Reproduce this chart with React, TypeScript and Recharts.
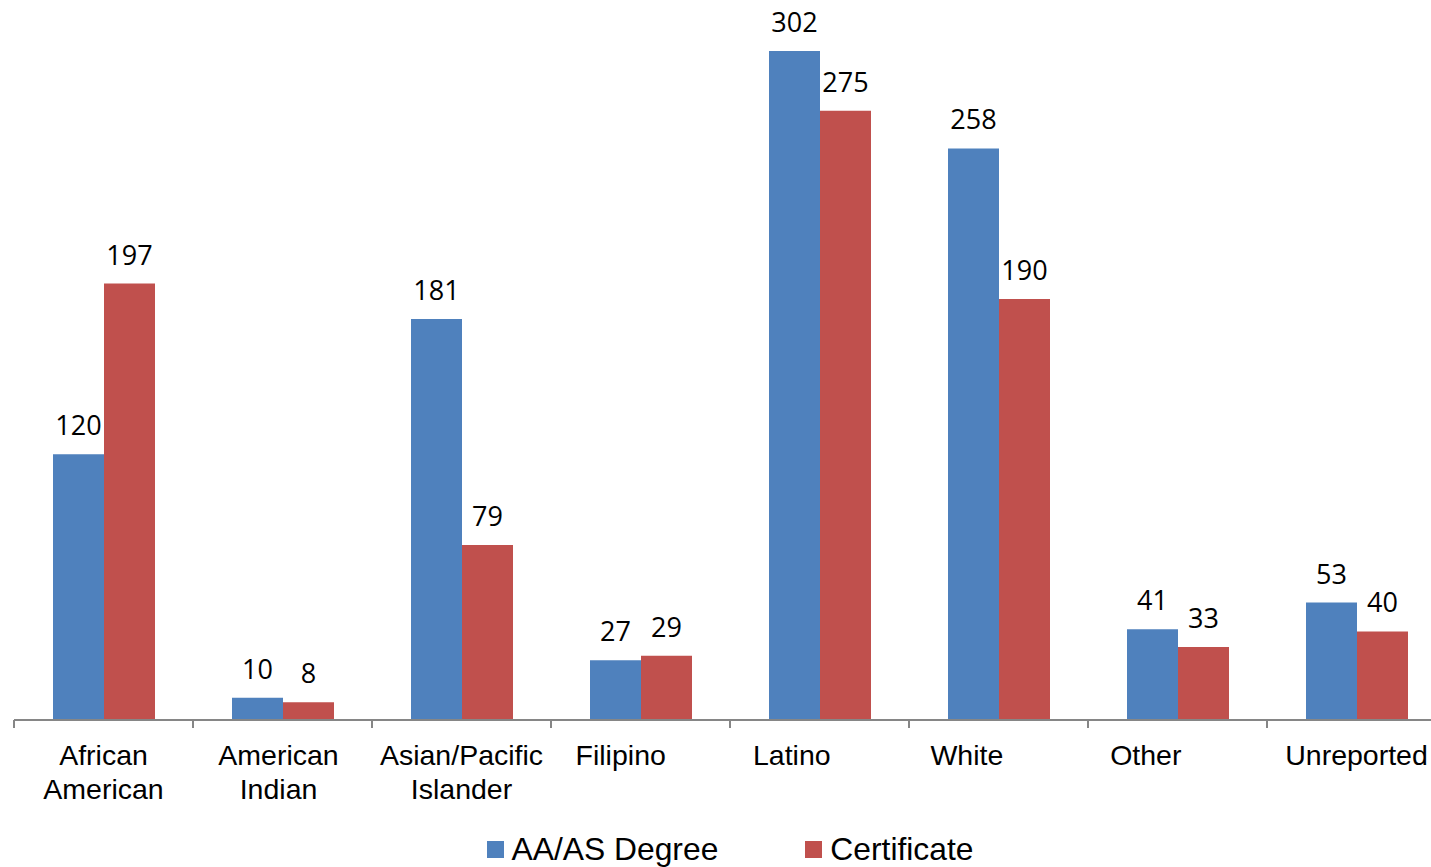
import React from "react";
import { BarChart, Bar, XAxis, YAxis, LabelList, Legend } from "recharts";

const categories = [
  "African American",
  "American Indian",
  "Asian/Pacific Islander",
  "Filipino",
  "Latino",
  "White",
  "Other",
  "Unreported",
];
// tick label lines as they appear (source labels carry trailing padding spaces)
const NB = "\u00A0";
const tickLabels = [
  ["African", "American"],
  ["American" + NB, "Indian" + NB],
  ["Asian/Pacific", "Islander"],
  ["Filipino" + NB.repeat(5)],
  ["Latino" + NB.repeat(7)],
  ["White" + NB.repeat(8)],
  ["Other" + NB.repeat(8)],
  ["Unreported"],
];
const degree = [120, 10, 181, 27, 302, 258, 41, 53];
const certificate = [197, 8, 79, 29, 275, 190, 33, 40];
const seriesNames = ["AA/AS Degree", "Certificate"];
const seriesColors = ["#4F81BD", "#C0504D"];

const data = categories.map((c, i) => ({
  name: c,
  degree: degree[i],
  certificate: certificate[i],
}));

const ARIAL = "'Liberation Sans', Arial, sans-serif";
const LABEL_FONT = "'Open Sans', 'Noto Sans', sans-serif";

const CategoryTick = (props: any) => {
  const { x, y, payload, index } = props;
  const half = payload && typeof payload.offset === "number" ? payload.offset : 89.5;
  const idx = typeof payload?.index === "number" ? payload.index : index;
  const lines = tickLabels[idx] || [String(payload.value)];
  return (
    <g>
      <line x1={x - half} x2={x - half} y1={y} y2={y + 8} stroke="#868686" strokeWidth={2} />
      {idx === categories.length - 1 && (
        <line x1={x + half} x2={x + half} y1={y} y2={y + 8} stroke="#868686" strokeWidth={2} />
      )}
      {lines.map((l: string, k: number) => (
        <text
          key={k}
          x={x}
          y={y + 45 + k * 34}
          textAnchor="middle"
          fontFamily={ARIAL}
          fontSize={28.5}
          fill="#000"
        >
          {l}
        </text>
      ))}
    </g>
  );
};

const LegendContent = () => (
  <div
    style={{
      display: "flex",
      justifyContent: "center",
      alignItems: "center",
      fontFamily: ARIAL,
      fontSize: 31.8,
      color: "#000",
      lineHeight: "34px",
    }}
  >
    {seriesNames.map((n, i) => (
      <div
        key={n}
        style={{ display: "flex", alignItems: "center", marginLeft: i === 0 ? 0 : 87 }}
      >
        <span
          style={{
            display: "inline-block",
            width: 17,
            height: 17,
            background: seriesColors[i],
            marginRight: 8,
          }}
        />
        <span>{n}</span>
      </div>
    ))}
  </div>
);

export default function App() {
  return (
    <div
      style={{
        position: "absolute",
        left: 0,
        top: 0,
        width: 1431,
        height: 867,
        overflow: "hidden",
        background: "#fff",
      }}
    >
      <BarChart
        width={1460}
        height={867}
        data={data}
        margin={{ top: 0, right: 14, bottom: 0, left: 14 }}
        barGap={0}
        barSize={51}
      >
        <XAxis
          dataKey="name"
          height={147}
          interval={0}
          tickLine={false}
          tickSize={0}
          tickMargin={0}
          axisLine={{ stroke: "#868686", strokeWidth: 2 }}
          tick={<CategoryTick />}
        />
        <YAxis hide domain={[0, 325]} />
        <Legend
          verticalAlign="middle"
          align="center"
          layout="horizontal"
          wrapperStyle={{ top: 832, left: 0, width: 1460 }}
          content={<LegendContent />}
        />
        <Bar dataKey="degree" name={seriesNames[0]} fill={seriesColors[0]} isAnimationActive={false}>
          <LabelList
            dataKey="degree"
            position="top"
            offset={19}
            fontFamily={LABEL_FONT}
            fontSize={27}
            fill="#000"
          />
        </Bar>
        <Bar dataKey="certificate" name={seriesNames[1]} fill={seriesColors[1]} isAnimationActive={false}>
          <LabelList
            dataKey="certificate"
            position="top"
            offset={19}
            fontFamily={LABEL_FONT}
            fontSize={27}
            fill="#000"
          />
        </Bar>
      </BarChart>
    </div>
  );
}
